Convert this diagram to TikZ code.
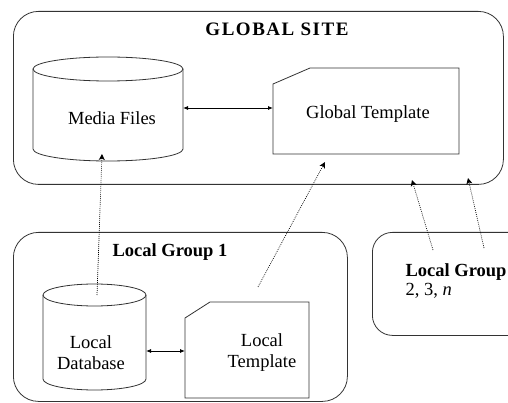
\documentclass[tikz,border=0pt]{standalone}
\usepackage{fontspec}
\setmainfont{Liberation Serif}
\usetikzlibrary{arrows.meta,calc}
% drum: centre, half width, half height, end radius
\def\drum(#1)(#2:#3:#4){\draw[outline] ($(#1)+(0,#3pt-#4pt)$) ellipse [x radius=#2pt, y radius=#4pt];
  \draw[outline] ($(#1)+(-#2pt,#3pt-#4pt)$) -- ($(#1)+(-#2pt,-#3pt+#4pt)$) arc [start angle=180, end angle=360, x radius=#2pt, y radius=#4pt] -- ($(#1)+(#2pt,#3pt-#4pt)$);}
% sheet: node, corner cut x, corner cut y
\def\sheet(#1)(#2:#3){\draw[outline] ($(#1.north west)+(0,-#3pt)$) -- ($(#1.north west)+(#2pt,0)$) -- (#1.north east) -- (#1.south east) -- (#1.south west) -- cycle;}
\tikzset{
  outline/.style={draw=black!80, line width=0.8pt},
  grp/.style={outline, rounded corners=25pt, anchor=north west},
  slot/.style={inner sep=0pt, outer sep=0pt},
  sync/.style={{Latex[length=5pt,width=4pt]}-{Latex[length=5pt,width=4pt]}, line width=0.8pt},
  feed/.style={-{Stealth[length=6pt,width=6pt,inset=1.5pt]}, dash pattern=on 0.8pt off 1.2pt, line width=0.7pt},
}
\begin{document}
\begin{tikzpicture}[x=1pt, y=-1pt, font=\fontsize{18.5}{21}\selectfont]
			\clip (0,0) rectangle (508,403);
			
			%%%%% GLOBAL SITE %%%%%
			\node[grp, minimum width=490pt, minimum height=173pt] (global) at (13,11) {};
			\node[font=\fontsize{19}{21}\selectfont\bfseries\addfontfeature{LetterSpace=8}] (gtitle) at (277,29) {GLOBAL SITE};
			
			\node[slot, minimum width=150pt, minimum height=104pt] (media) at (108,109) {};
			\drum(media)(75:52:12)
			\node (medialbl) at (112,118) {Media Files};
			\node[slot, minimum width=186pt, minimum height=86pt] (gtpl) at (366,111) {};
			\sheet(gtpl)(37:16)
			\node (gtpllbl) at (368,114) {Global Template};
			
			\draw[sync] (media.east |- 0,108) -- (gtpl.west |- 0,108);
			
			%%%%% LOCAL GROUP 1 %%%%%
			\node[grp, minimum width=334pt, minimum height=169pt] (local) at (13,232) {};
			\node[font=\fontsize{18.5}{21}\selectfont\bfseries] (ltitle) at (170,252) {Local Group 1};
			
			\node[slot, minimum width=103pt, minimum height=106pt] (ldb) at (94.5,337) {};
			\drum(ldb)(51.5:53:11)
			\node[align=center] (ldblbl) at (91,353) {Local\\Database};
			\node[slot, minimum width=124pt, minimum height=96pt] (ltpl) at (247,350) {};
			\sheet(ltpl)(25:16)
			\node[align=center] (ltpllbl) at (262,353) {Local\\Template};
			
			\draw[sync] (ldb.east |- 0,351) -- (ltpl.west |- 0,351);
			
			%%%%% LOCAL GROUPS 2, 3, n %%%%%
			\node[grp, rounded corners=20pt, minimum width=160pt, minimum height=103pt] (others) at (372,232) {};
			\node[anchor=west, font=\fontsize{18.5}{21}\selectfont\bfseries] (otitle) at (402,272) {Local Group};
			\node[anchor=west] (onums) at (402,291) {2, 3, \textit{n}};
			
			%%%%% UPDATES %%%%%
			\coordinate (u1) at (97,295);   \coordinate (v1) at (102,154);
			\coordinate (u2) at (258,287);  \coordinate (v2) at (325,162);
			\coordinate (u3) at (433,250);  \coordinate (v3) at (412,180);
			\coordinate (u4) at (484,248);  \coordinate (v4) at (468,178);
			\draw[feed] (u1) -- (v1);
			\draw[feed] (u2) -- (v2);
			\draw[feed] (u3) -- (v3);
			\draw[feed] (u4) -- (v4);
\end{tikzpicture}
\end{document}
